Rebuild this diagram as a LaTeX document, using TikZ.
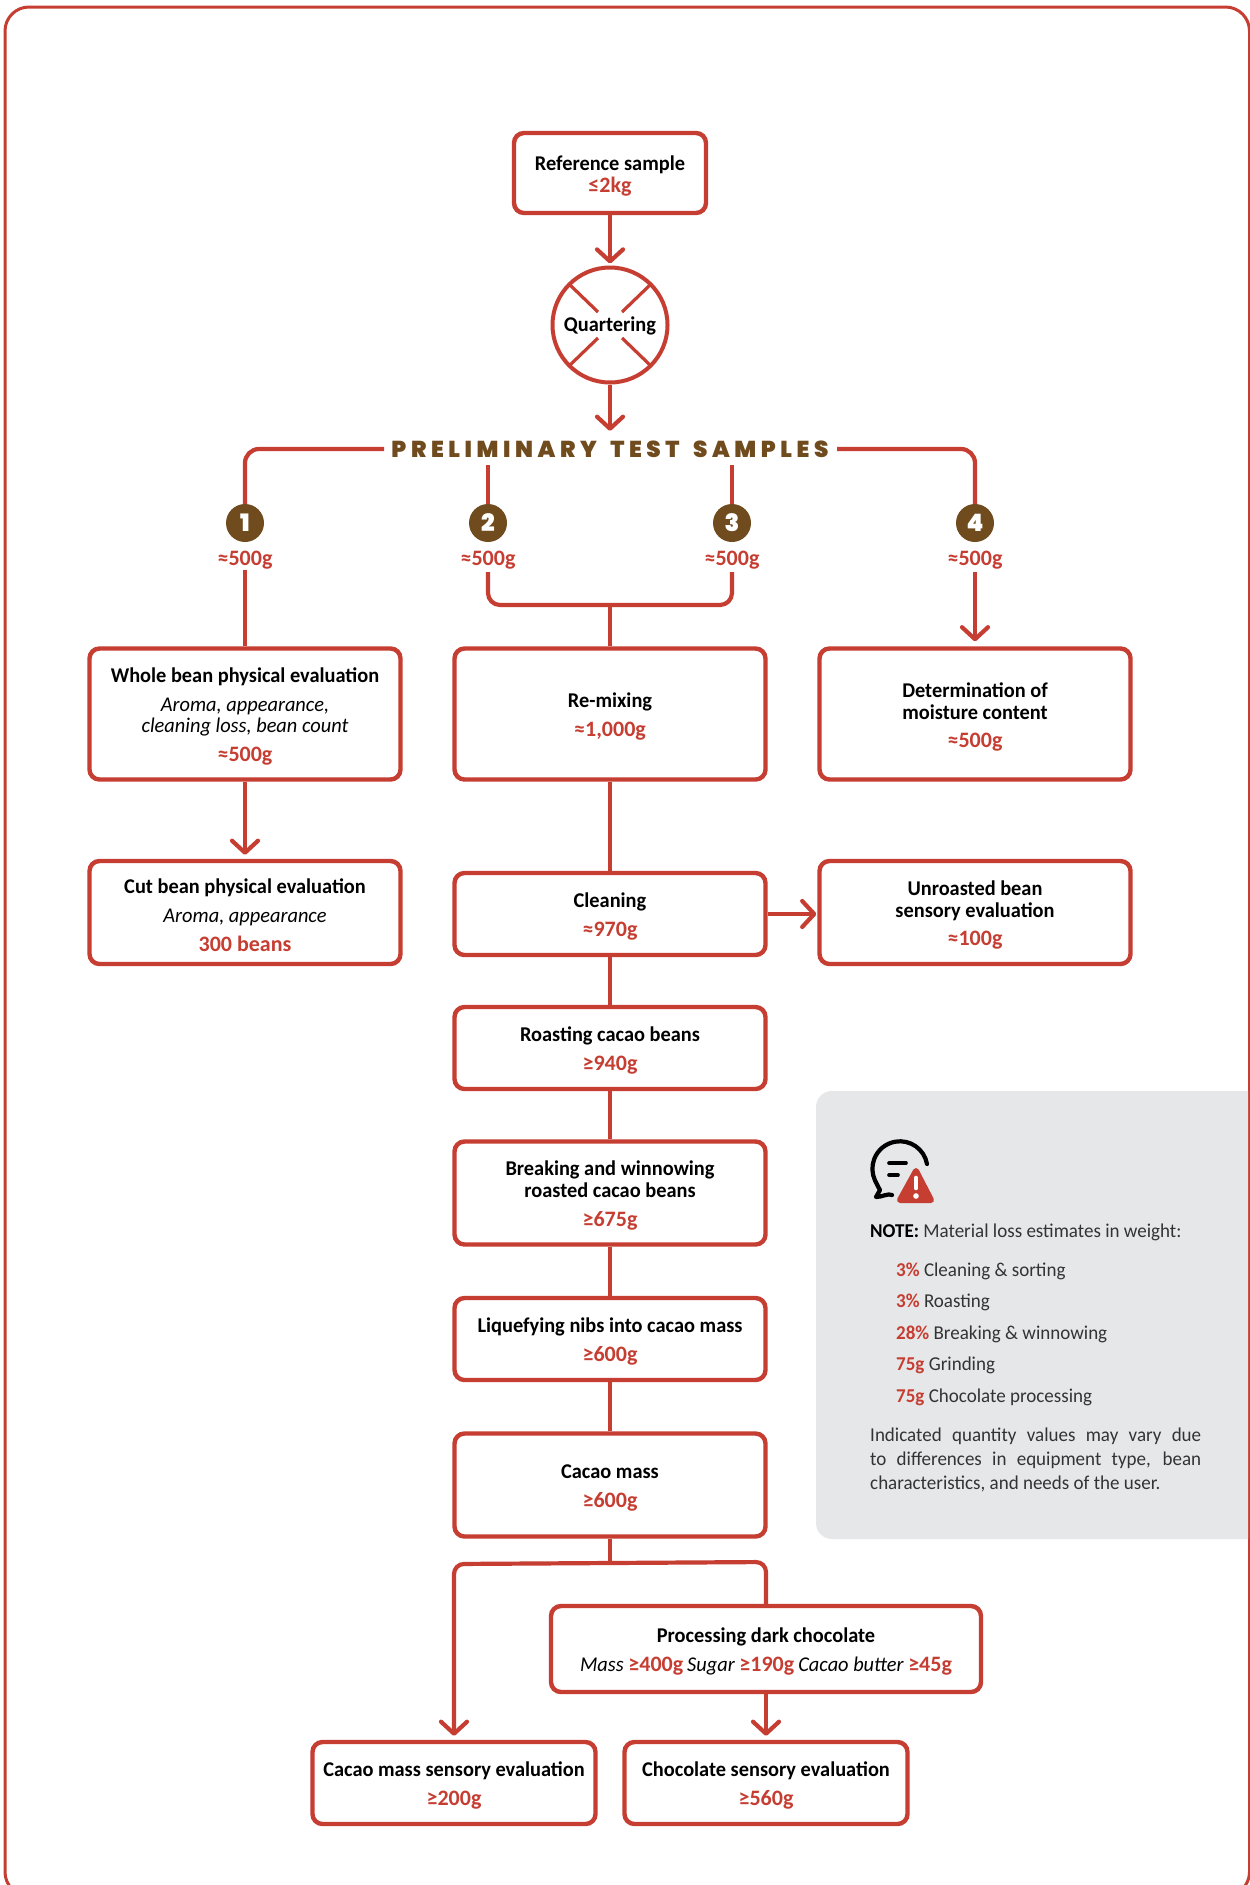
\documentclass[tikz,border=0pt]{standalone}
\usepackage{fontspec}
\usetikzlibrary{arrows.meta}
\setmainfont[FakeStretch=0.97]{Carlito}
\newfontfamily\widefont{Carlito}
\newfontfamily\headfont[LetterSpace=20]{Poppins Black}
\newfontfamily\badgefont{Poppins Black}
\definecolor{brick}{HTML}{C63D32}
\definecolor{cocoa}{HTML}{6F4B1E}
\definecolor{panelgray}{HTML}{E6E7E8}
\definecolor{notetext}{HTML}{333333}
\newcommand{\qtyx}[1]{{\widefont\fontsize{22}{22}\selectfont\color{brick}#1}}
\newcommand{\ttl}{\rule{0pt}{20pt}}
\tikzset{
  x=1pt,y=-1pt,
  flowbox/.style={draw=brick,line width=4.4pt,rounded corners=10pt,fill=white,align=center,inner sep=0pt,
     font=\fontsize{21}{22}\selectfont\bfseries,text=black},
  link/.style={draw=brick,line width=4.2pt},
  thinlink/.style={draw=brick,line width=3.2pt,rounded corners=10pt},
  arrowlink/.style={link,-{Straight Barb[length=12pt,width=26pt,line width=4.2pt,round]},shorten >=2pt},
  badge/.style={circle,fill=cocoa,minimum size=38pt,inner sep=0pt,text=white,font=\fontsize{24}{24}\badgefont},
  amount/.style={text=brick,inner sep=0pt,font=\fontsize{22}{22}\selectfont\bfseries\widefont},
  notetxt/.style={anchor=base west,inner sep=0pt,text=notetext,font=\fontsize{19.6}{22}\selectfont},
}
\begin{document}
\begin{tikzpicture}
\useasboundingbox (0,0) rectangle (1250,1885);
% frame
\fill[white] (0,0) rectangle (1250,1885);
\begin{scope}
\clip (0,0) rectangle (1250,1885);
\draw[brick,line width=3pt,rounded corners=24pt] (5,7) rectangle (1249.5,1896);
\end{scope}
% gray panel
\begin{scope}
\clip (800,1080) rectangle (1248,1550);
\fill[panelgray,rounded corners=16pt] (816,1091) rectangle (1280,1539);
\end{scope}

\node[flowbox,minimum width=192pt,minimum height=80pt] (ref) at (610,173) {\ttl Reference sample\\\qtyx{≤2kg}};
\node[circle,draw=brick,line width=4pt,fill=white,minimum size=115pt,inner sep=0pt] (quart) at (610,325) {};
\foreach \a/\b in {-1/-1,1/-1,-1/1,1/1}{
  \draw[brick,line width=3.2pt] (610+\a*40,325+\b*40) -- (610+\a*12,325+\b*13);
}
\node[inner sep=0pt,font=\fontsize{21}{22}\selectfont\bfseries] (qlabel) at (610,326) {Quartering};
\node[inner sep=0pt,text=cocoa,text height=17pt,text depth=0pt,font=\fontsize{23}{24}\headfont] (prelim) at (610,449) {PRELIMINARY\hspace{5pt} TEST\hspace{5pt} SAMPLES};

\node[badge] (b1) at (245,523) {1};
\node[badge] (b2) at (488,523) {2};
\node[badge] (b3) at (732,523) {3};
\node[badge] (b4) at (975,523) {4};
\node[amount] (a1) at (245,560) {≈500g};
\node[amount] (a2) at (488,560) {≈500g};
\node[amount] (a3) at (732,560) {≈500g};
\node[amount] (a4) at (975,560) {≈500g};

\node[flowbox,minimum width=311pt,minimum height=131pt] (whole) at (245,714) {\ttl Whole bean physical evaluation\\[7pt]{\mdseries\itshape Aroma, appearance,}\\[-1pt]{\mdseries\itshape cleaning loss, bean count}\\[7pt]\qtyx{≈500g}};
\node[flowbox,minimum width=311pt,minimum height=131pt] (remix) at (610,714) {\ttl Re-mixing\\[7pt]\qtyx{≈1,000g}};
\node[flowbox,minimum width=311pt,minimum height=131pt] (moist) at (975,714) {\ttl Determination of\\moisture content\\[6pt]\qtyx{≈500g}};
\node[flowbox,minimum width=311pt,minimum height=103pt] (cut) at (245,912.5) {\ttl Cut bean physical evaluation\\[7pt]{\mdseries\itshape Aroma, appearance}\\[7pt]\qtyx{300 beans}};
\node[flowbox,minimum width=311pt,minimum height=82pt] (clean) at (610,914) {\ttl Cleaning\\[7pt]\qtyx{≈970g}};
\node[flowbox,minimum width=311pt,minimum height=103pt] (unroast) at (975,912.5) {\ttl Unroasted bean\\sensory evaluation\\[6pt]\qtyx{≈100g}};
\node[flowbox,minimum width=311pt,minimum height=82pt] (roast) at (610,1048) {\ttl Roasting cacao beans\\[7pt]\qtyx{≥940g}};
\node[flowbox,minimum width=311pt,minimum height=103pt] (break) at (610,1193) {\ttl Breaking and winnowing\\roasted cacao beans\\[7pt]\qtyx{≥675g}};
\node[flowbox,minimum width=311pt,minimum height=82pt] (liq) at (610,1339) {\ttl Liquefying nibs into cacao mass\\[7pt]\qtyx{≥600g}};
\node[flowbox,minimum width=311pt,minimum height=103pt] (mass) at (610,1485) {\ttl Cacao mass\\[7pt]\qtyx{≥600g}};
\node[flowbox,minimum width=430pt,minimum height=86pt] (proc) at (766,1649) {\ttl Processing dark chocolate\\[7pt]{\mdseries\itshape Mass} \qtyx{≥400g}\hspace{4pt}{\mdseries\itshape Sugar} \qtyx{≥190g}\hspace{4pt}{\mdseries\itshape Cacao butter} \qtyx{≥45g}};
\node[flowbox,minimum width=283pt,minimum height=82pt] (cms) at (454,1783) {\ttl Cacao mass sensory evaluation\\[7pt]\qtyx{≥200g}};
\node[flowbox,minimum width=283pt,minimum height=82pt] (cs) at (766,1783) {\ttl Chocolate sensory evaluation\\[7pt]\qtyx{≥560g}};

% connectors
\draw[arrowlink] (ref.south) -- (quart.north);
\draw[arrowlink,shorten >=9.5pt] (quart.south) -- (prelim.north);
\coordinate (tl) at (245,449);
\coordinate (tr) at (975,449);
\coordinate (pl) at (384,449);
\coordinate (pr) at (837,449);
\draw[link,rounded corners=14pt] (pl) -- (tl) -- (b1.north);
\draw[link,rounded corners=14pt] (pr) -- (tr) -- (b4.north);
\coordinate (t2) at (488,465);
\coordinate (t3) at (732,465);
\draw[thinlink] (t2) -- (b2.north);
\draw[thinlink] (t3) -- (b3.north);
\coordinate (m2) at (488,605);
\coordinate (m3) at (732,605);
\coordinate (mc) at (610,605);
\coordinate (u2) at (488,572);
\coordinate (u3) at (732,572);
\draw[link,rounded corners=12pt] (u2) -- (m2) -- (m3) -- (u3);
\draw[link] (mc) -- (remix.north);
\coordinate (u1) at (245,570);
\coordinate (u4) at (975,572);
\draw[link] (u1) -- (whole.north);
\draw[arrowlink,shorten >=5pt] (u4) -- (moist.north);
\draw[arrowlink,shorten >=4pt] (whole.south) -- (cut.north);
\draw[link] (remix.south) -- (clean.north);
\draw[arrowlink,shorten >=1pt] (clean.east) -- (clean.east -| unroast.west);
\draw[link] (clean.south) -- (roast.north);
\draw[link] (roast.south) -- (break.north);
\draw[link] (break.south) -- (liq.north);
\draw[link] (liq.south) -- (mass.north);
\coordinate (bc) at (610,1563);
\coordinate (bl) at (454,1564);
\coordinate (br) at (766,1562);
\draw[link] (mass.south) -- (bc);
\draw[arrowlink,rounded corners=10pt,shorten >=4pt] (bc) -- (bl) -- (cms.north);
\draw[link,rounded corners=10pt] (bc) -- (br) -- (proc.north);
\draw[arrowlink,shorten >=4pt] (proc.south) -- (cs.north);

% note icon
\draw[black,line width=4.2pt,line cap=round,line join=round] (927,1164) arc[start angle=-10,end angle=-205,radius=27.5]
  .. controls (875,1180) and (878,1187) .. (880,1190) -- (876,1197) .. controls (882,1197) and (888,1193) .. (892,1195);
\draw[black,line width=3.6pt,line cap=round] (889,1163) -- (906,1163);
\draw[black,line width=3.6pt,line cap=round] (889,1175) -- (898,1175);
\fill[brick,draw=brick,line width=6pt,line join=round] (916,1171) -- (900,1200) -- (931,1200) -- cycle;
\draw[white,line width=4.6pt,line cap=round] (916,1178) -- (916,1188);
\fill[white] (916,1196) circle[radius=2.8];

% note text
\node[notetxt] (n0) at (870,1237) {\textbf{\color{black}NOTE:} Material loss estimates in weight:};
\node[notetxt] (n1) at (896,1276) {\textbf{\color{brick}3\%} Cleaning \& sorting};
\node[notetxt] (n2) at (896,1307) {\textbf{\color{brick}3\%} Roasting};
\node[notetxt] (n3) at (896,1339) {\textbf{\color{brick}28\%} Breaking \& winnowing};
\node[notetxt] (n4) at (896,1370) {\textbf{\color{brick}75g} Grinding};
\node[notetxt] (n5) at (896,1402) {\textbf{\color{brick}75g} Chocolate processing};
\node[notetxt,text width=331pt,align=justify,anchor=north west,font=\fontsize{19.6}{24}\selectfont] (n6) at (870,1428) {Indicated quantity values may vary due\linebreak to differences in equipment type, bean\linebreak characteristics, and needs of the user.};
\end{tikzpicture}
\end{document}
